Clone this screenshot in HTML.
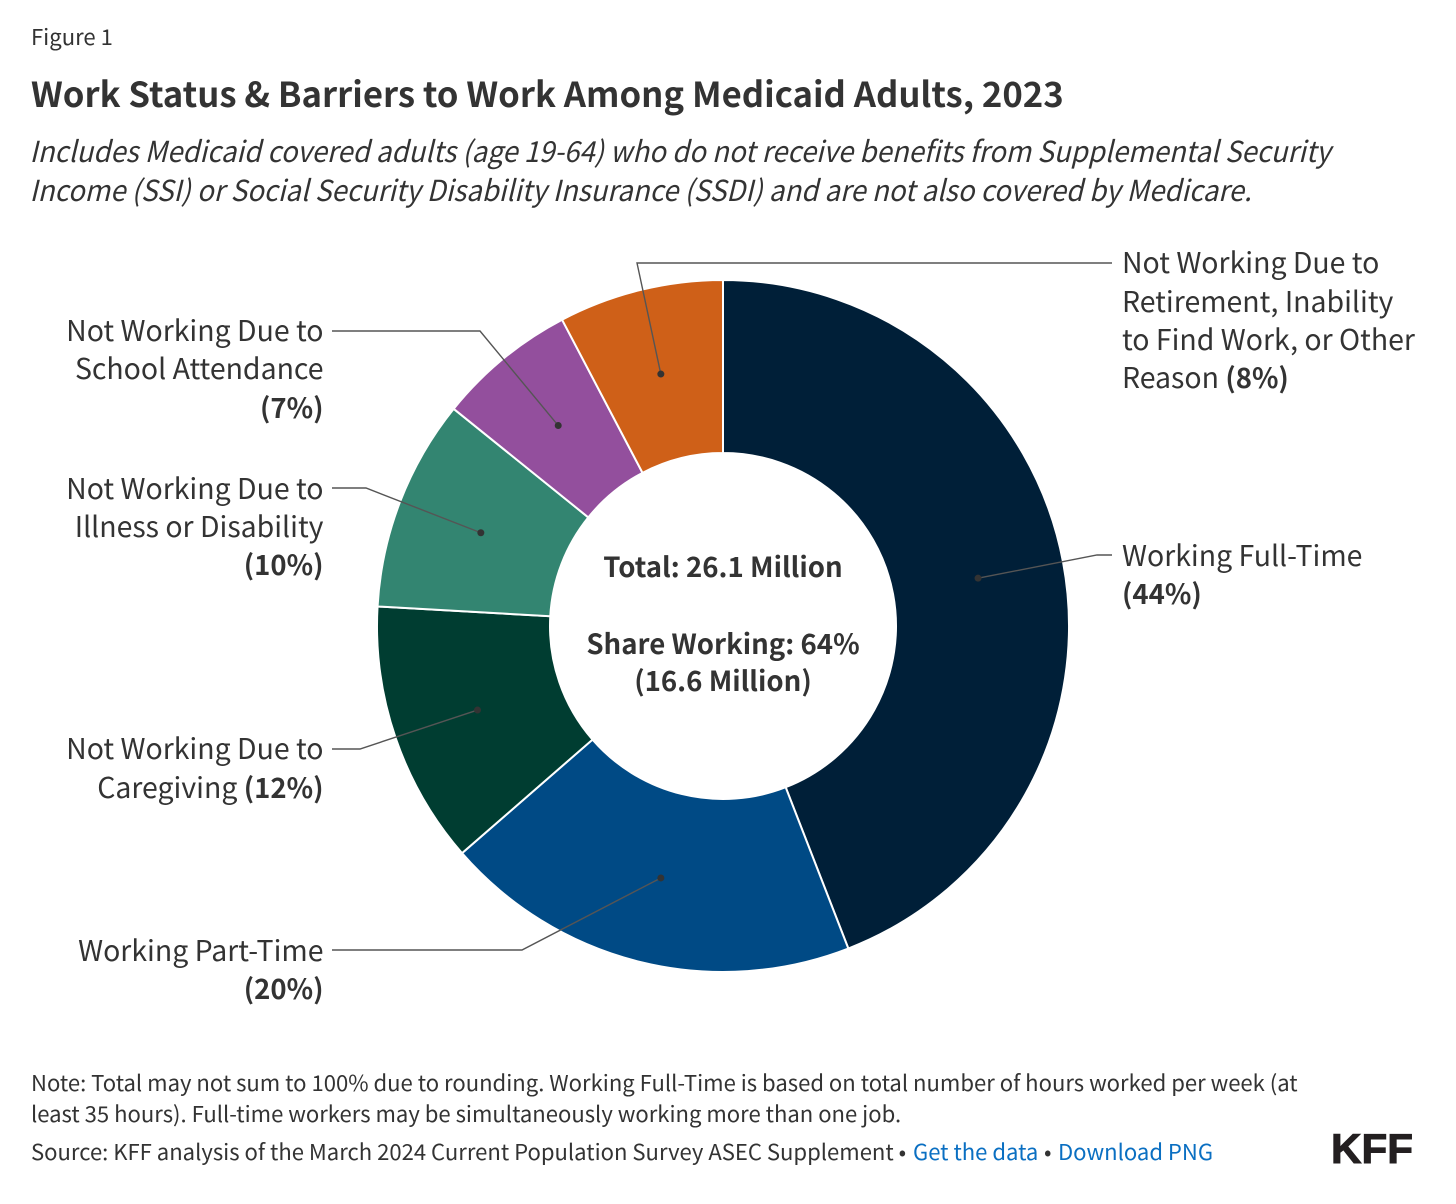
<!DOCTYPE html>
<html lang="en">
<head>
<meta charset="utf-8">
<title>Work Status &amp; Barriers to Work Among Medicaid Adults, 2023</title>
<style>
html,body{margin:0;padding:0;background:#fff;}
svg{display:block;font-family:"Noto Sans CJK JP","Liberation Sans",sans-serif;}
text{fill:#333;}
.lbl{font-size:28.45px;}
.lbl tspan{font-weight:700;font-size:27.5px;}
.ctr{font-size:27.6px;font-weight:700;text-anchor:middle;}
.note{font-size:22.07px;}
a text{fill:#0a6fc2;}
</style>
</head>
<body>
<svg id="chart" xmlns="http://www.w3.org/2000/svg" width="1456" height="1204" viewBox="0 0 1456 1204">
  <text x="31" y="45" font-size="22.07">Figure 1</text>
  <text x="31" y="107" font-size="34.7" font-weight="700">Work Status &amp; Barriers to Work Among Medicaid Adults, 2023</text>
  <text x="29.5" y="162" font-size="29" font-style="italic" textLength="1301" lengthAdjust="spacingAndGlyphs">Includes Medicaid covered adults (age 19-64) who do not receive benefits from Supplemental Security</text>
  <text x="29.5" y="201" font-size="29" font-style="italic" textLength="1222" lengthAdjust="spacingAndGlyphs">Income (SSI) or Social Security Disability Insurance (SSDI) and are not also covered by Medicare.</text>
  <g id="slices"></g>
  <g id="leaders"></g>
  <g id="labels"></g>
  <text class="ctr" x="723" y="577">Total: 26.1 Million</text>
  <text class="ctr" x="723" y="654">Share Working: 64%</text>
  <text class="ctr" x="723" y="691">(16.6 Million)</text>
  <text class="note" x="31" y="1091">Note: Total may not sum to 100% due to rounding. Working Full-Time is based on total number of hours worked per week (at</text>
  <text class="note" x="31" y="1122">least 35 hours). Full-time workers may be simultaneously working more than one job.</text>
  <text class="note" x="31" y="1160">Source: KFF analysis of the March 2024 Current Population Survey ASEC Supplement •</text>
  <a href="#"><text class="note" x="913" y="1160">Get the data</text></a>
  <text class="note" x="1044" y="1160">•</text>
  <a href="#"><text class="note" x="1058" y="1160">Download PNG</text></a>
  <text x="1331" y="1163" font-family="Liberation Sans, sans-serif" font-size="42" font-weight="700" textLength="82" lengthAdjust="spacingAndGlyphs" stroke="#231f20" stroke-width="1" style="fill:#231f20">KFF</text>
</svg>
<script>
// Chart data
const categories = ["Working Full-Time", "Working Part-Time", "Not Working Due to Caregiving", "Not Working Due to Illness or Disability", "Not Working Due to School Attendance", "Not Working Due to Retirement, Inability to Find Work, or Other Reason"];
const shares = [44.1, 19.5, 12.3, 9.9, 6.5, 7.7];
const sliceColors = ["#001f38", "#004a85", "#003d31", "#338571", "#934f9d", "#cf6018"];

// Layout (not data)
const CX = 723, CY = 626, R_OUT = 346, R_IN = 173;
const SVG_NS = "http://www.w3.org/2000/svg";
const labelLayouts = [
  { x: 1122, anchor: "start", lines: ["Working Full-Time"], baselines: [566, 604], pctInline: false, elbow: [1097, 555], end: [1112, 555] },
  { x: 323.5, anchor: "end", lines: ["Working Part-Time"], baselines: [961, 999], pctInline: false, elbow: [522, 950], end: [332, 950] },
  { x: 323.5, anchor: "end", lines: ["Not Working Due to", "Caregiving"], baselines: [759, 798], pctInline: true, elbow: [360, 749], end: [332, 749] },
  { x: 323.5, anchor: "end", lines: ["Not Working Due to", "Illness or Disability"], baselines: [499, 537, 575], pctInline: false, elbow: [366, 488], end: [332, 488] },
  { x: 323.5, anchor: "end", lines: ["Not Working Due to", "School Attendance"], baselines: [341, 379, 418], pctInline: false, elbow: [480, 331], end: [332, 331] },
  { x: 1122, anchor: "start", lines: ["Not Working Due to", "Retirement, Inability", "to Find Work, or Other", "Reason"], baselines: [273, 312, 350, 388], pctInline: true, elbow: [637, 263], end: [1112, 263] }
];

function angleScale(cumulative, total) {
  return cumulative / total * 2 * Math.PI;
}
function polar(angle, radius) {
  return [CX + radius * Math.sin(angle), CY - radius * Math.cos(angle)];
}

const total = shares.reduce(function (a, b) { return a + b; }, 0);
const slicesGroup = document.getElementById("slices");
const leadersGroup = document.getElementById("leaders");
const labelsGroup = document.getElementById("labels");
let cumulative = 0;

shares.forEach(function (value, i) {
  const a0 = angleScale(cumulative, total);
  const a1 = angleScale(cumulative + value, total);
  const mid = (a0 + a1) / 2;
  cumulative += value;
  const large = a1 - a0 > Math.PI ? 1 : 0;
  const p0 = polar(a0, R_OUT), p1 = polar(a1, R_OUT), p2 = polar(a1, R_IN), p3 = polar(a0, R_IN);

  const slice = document.createElementNS(SVG_NS, "path");
  
  
  slice.setAttribute("d", "M" + p0 + "A" + R_OUT + " " + R_OUT + " 0 " + large + " 1 " + p1 + "L" + p2 + "A" + R_IN + " " + R_IN + " 0 " + large + " 0 " + p3 + "Z");
  slice.setAttribute("fill", sliceColors[i]);
  slice.setAttribute("stroke", "#fff");
  slice.setAttribute("stroke-width", "2");
  slicesGroup.appendChild(slice);

  const layout = labelLayouts[i];
  const dot = polar(mid, (R_OUT + R_IN) / 2);

  const leader = document.createElementNS(SVG_NS, "polyline");
  
  
  leader.setAttribute("points", [dot, layout.elbow, layout.end].map(String).join(" "));
  leader.setAttribute("fill", "none");
  leader.setAttribute("stroke", "#555");
  leader.setAttribute("stroke-width", "1.4");
  leadersGroup.appendChild(leader);

  const marker = document.createElementNS(SVG_NS, "circle");
  
  
  marker.setAttribute("cx", dot[0]);
  marker.setAttribute("cy", dot[1]);
  marker.setAttribute("r", "3.5");
  marker.setAttribute("fill", "#333");
  leadersGroup.appendChild(marker);

  const pct = "(" + Math.round(value) + "%)";
  const rows = layout.lines.slice();
  if (!layout.pctInline) rows.push("");
  rows.forEach(function (row, r) {
    const text = document.createElementNS(SVG_NS, "text");
    text.setAttribute("class", "lbl");
    
    
    text.setAttribute("x", layout.x);
    text.setAttribute("y", layout.baselines[r]);
    text.setAttribute("text-anchor", layout.anchor);
    text.textContent = row;
    if (r === rows.length - 1) {
      if (row) text.textContent = row + " ";
      const bold = document.createElementNS(SVG_NS, "tspan");
      bold.textContent = pct;
      text.appendChild(bold);
    }
    labelsGroup.appendChild(text);
  });
});
</script>
</body>
</html>
